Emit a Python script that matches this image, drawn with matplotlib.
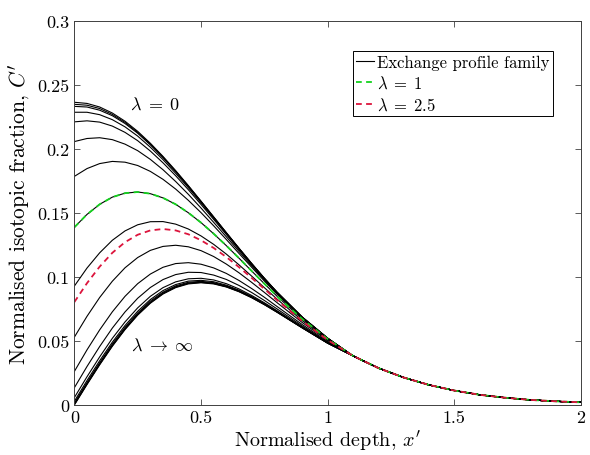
import matplotlib
matplotlib.use("Agg")
import matplotlib.pyplot as plt

plt.rcParams["font.family"] = "serif"
plt.rcParams["font.serif"] = ["cmr10"]
plt.rcParams["mathtext.fontset"] = "cm"
plt.rcParams["axes.formatter.use_mathtext"] = True

# depth grid where the profiles differ, then a deep tail they all share
x_near = [0.0, 0.05, 0.1, 0.15, 0.2, 0.25, 0.3, 0.35, 0.4, 0.45, 0.5,
          0.55, 0.6, 0.65, 0.7, 0.75, 0.8, 0.9, 1.0]
x_tail = [1.1, 1.2, 1.3, 1.4, 1.5, 1.6, 1.7, 1.8, 1.9, 2.0]
c_tail = [0.0384, 0.0289, 0.0215, 0.0157, 0.0113, 0.0080, 0.0057, 0.0040, 0.0029, 0.0021]

# exchange profile family, lambda = 0 ... infinity
c_lam_0 = [0.2365, 0.2356, 0.2328, 0.2281, 0.2217, 0.2138, 0.2045, 0.1942, 0.1831, 0.1714,
           0.1593, 0.1470, 0.1347, 0.1225, 0.1106, 0.0991, 0.0882, 0.0686, 0.0522]
c_lam_001 = [0.2349, 0.2342, 0.2316, 0.2270, 0.2208, 0.2130, 0.2039, 0.1937, 0.1827, 0.1711,
             0.1590, 0.1468, 0.1345, 0.1224, 0.1105, 0.0990, 0.0882, 0.0686, 0.0522]
c_lam_002 = [0.2333, 0.2328, 0.2303, 0.2260, 0.2199, 0.2123, 0.2032, 0.1932, 0.1823, 0.1707,
             0.1588, 0.1466, 0.1344, 0.1223, 0.1104, 0.0990, 0.0881, 0.0686, 0.0522]
c_lam_005 = [0.2287, 0.2287, 0.2268, 0.2229, 0.2173, 0.2101, 0.2014, 0.1917, 0.1810, 0.1698,
             0.1580, 0.1460, 0.1339, 0.1219, 0.1101, 0.0988, 0.0880, 0.0685, 0.0521]
c_lam_01 = [0.2212, 0.2220, 0.2210, 0.2179, 0.2130, 0.2065, 0.1984, 0.1892, 0.1791, 0.1682,
            0.1567, 0.1450, 0.1332, 0.1213, 0.1097, 0.0984, 0.0877, 0.0684, 0.0521]
c_lam_02 = [0.2058, 0.2082, 0.2088, 0.2073, 0.2038, 0.1987, 0.1919, 0.1838, 0.1746, 0.1646,
            0.1539, 0.1427, 0.1314, 0.1200, 0.1087, 0.0977, 0.0872, 0.0681, 0.0520]
c_lam_05 = [0.1786, 0.1847, 0.1886, 0.1903, 0.1897, 0.1871, 0.1825, 0.1763, 0.1687, 0.1599,
            0.1503, 0.1400, 0.1293, 0.1184, 0.1076, 0.0969, 0.0866, 0.0678, 0.0519]
c_lam_1 = [0.1388, 0.1489, 0.1568, 0.1624, 0.1655, 0.1664, 0.1651, 0.1618, 0.1568, 0.1502,
           0.1425, 0.1338, 0.1245, 0.1147, 0.1047, 0.0948, 0.0850, 0.0671, 0.0516]
c_lam_2 = [0.0929, 0.1070, 0.1189, 0.1287, 0.1360, 0.1408, 0.1432, 0.1433, 0.1413, 0.1375,
           0.1321, 0.1255, 0.1179, 0.1095, 0.1007, 0.0917, 0.0828, 0.0659, 0.0510]
c_lam_5 = [0.0530, 0.0693, 0.0840, 0.0967, 0.1072, 0.1152, 0.1208, 0.1239, 0.1248, 0.1236,
           0.1206, 0.1160, 0.1101, 0.1033, 0.0958, 0.0880, 0.0800, 0.0644, 0.0504]
c_lam_10 = [0.0262, 0.0431, 0.0587, 0.0728, 0.0849, 0.0948, 0.1023, 0.1076, 0.1105, 0.1112,
            0.1100, 0.1071, 0.1028, 0.0973, 0.0910, 0.0842, 0.0770, 0.0628, 0.0496]
c_lam_20 = [0.0135, 0.0301, 0.0457, 0.0601, 0.0727, 0.0834, 0.0918, 0.0980, 0.1019, 0.1037,
            0.1035, 0.1015, 0.0981, 0.0934, 0.0879, 0.0817, 0.0751, 0.0617, 0.0490]
c_lam_50 = [0.0058, 0.0221, 0.0376, 0.0521, 0.0649, 0.0759, 0.0849, 0.0917, 0.0962, 0.0986,
            0.0990, 0.0977, 0.0948, 0.0907, 0.0856, 0.0799, 0.0737, 0.0609, 0.0486]
c_lam_100 = [0.0029, 0.0191, 0.0346, 0.0491, 0.0621, 0.0732, 0.0824, 0.0894, 0.0941, 0.0968,
             0.0974, 0.0963, 0.0936, 0.0897, 0.0848, 0.0792, 0.0731, 0.0606, 0.0485]
c_lam_200 = [0.0015, 0.0176, 0.0331, 0.0477, 0.0607, 0.0719, 0.0812, 0.0882, 0.0931, 0.0959,
             0.0966, 0.0956, 0.0931, 0.0892, 0.0844, 0.0789, 0.0729, 0.0604, 0.0484]
c_lam_500 = [0.0006, 0.0167, 0.0322, 0.0467, 0.0597, 0.0710, 0.0803, 0.0875, 0.0924, 0.0953,
             0.0961, 0.0951, 0.0926, 0.0889, 0.0841, 0.0787, 0.0727, 0.0603, 0.0484]
c_lam_1000 = [0.0003, 0.0164, 0.0318, 0.0463, 0.0593, 0.0706, 0.0799, 0.0871, 0.0921, 0.0950,
              0.0958, 0.0949, 0.0924, 0.0887, 0.0840, 0.0785, 0.0726, 0.0603, 0.0483]
c_lam_inf = [0.0, 0.0160, 0.0314, 0.0459, 0.0589, 0.0702, 0.0795, 0.0867, 0.0917, 0.0946,
             0.0955, 0.0946, 0.0922, 0.0885, 0.0838, 0.0784, 0.0725, 0.0602, 0.0483]

# highlighted profile lambda = 2.5 (not one of the family)
c_lam_25 = [0.0804, 0.0952, 0.1081, 0.1189, 0.1272, 0.1330, 0.1364, 0.1375, 0.1364, 0.1334,
            0.1287, 0.1227, 0.1156, 0.1077, 0.0993, 0.0907, 0.0820, 0.0655, 0.0508]

family = [c_lam_0, c_lam_001, c_lam_002, c_lam_005, c_lam_01, c_lam_02, c_lam_05, c_lam_1,
          c_lam_2, c_lam_5, c_lam_10, c_lam_20, c_lam_50, c_lam_100, c_lam_200, c_lam_500,
          c_lam_1000, c_lam_inf]

x_ticks = [0, 0.5, 1, 1.5, 2]
x_ticklabels = ["0", "0.5", "1", "1.5", "2"]
y_ticks = [0, 0.05, 0.1, 0.15, 0.2, 0.25, 0.3]
y_ticklabels = ["0", "0.05", "0.1", "0.15", "0.2", "0.25", "0.3"]

x_all = x_near + x_tail

fig = plt.figure(figsize=(5.9, 4.56), dpi=100)
ax = fig.add_axes([0.126, 0.1096, 0.8587, 0.8422])

for i, c in enumerate(family):
    ax.plot(x_all, c + c_tail, color="black", linewidth=0.8,
            label="Exchange profile family" if i == 0 else None)

ax.plot(x_all, c_lam_1 + c_tail, color="#14d21e", linewidth=1.3,
        dashes=(3.2, 2.4), label=r"$\lambda\;=\;1$")
ax.plot(x_all, c_lam_25 + c_tail, color="#dc143c", linewidth=1.3,
        dashes=(3.2, 2.4), label=r"$\lambda\;=\;2.5$")

ax.text(0.318, 0.2355, r"$\lambda\;=\;0$", fontsize=13, ha="center", va="center")
ax.text(0.346, 0.0475, r"$\lambda\;\rightarrow\;\infty$", fontsize=13, ha="center", va="center")

ax.set_xlim(0, 2)
ax.set_ylim(0, 0.3)
ax.set_xticks(x_ticks)
ax.set_xticklabels(x_ticklabels)
ax.set_yticks(y_ticks)
ax.set_yticklabels(y_ticklabels)
ax.tick_params(direction="in", length=4.5, width=0.6, labelsize=13,
               top=True, right=True, colors="0.25", labelcolor="black")
for sp in ax.spines.values():
    sp.set_color("0.25")
    sp.set_linewidth(0.7)

ax.set_xlabel(r"Normalised depth, $x'$", fontsize=14.5, labelpad=2)
ax.set_ylabel(r"Normalised isotopic fraction, $C'$", fontsize=15.5, labelpad=4)

leg = ax.legend(loc="upper right", bbox_to_anchor=(0.944, 0.922), fontsize=12,
                fancybox=False, framealpha=1, edgecolor="black", borderpad=0.2,
                handlelength=1.1, handletextpad=0.15, labelspacing=0.3, borderaxespad=0)
leg.get_frame().set_linewidth(0.7)

fig.savefig("out.png", dpi=100)
